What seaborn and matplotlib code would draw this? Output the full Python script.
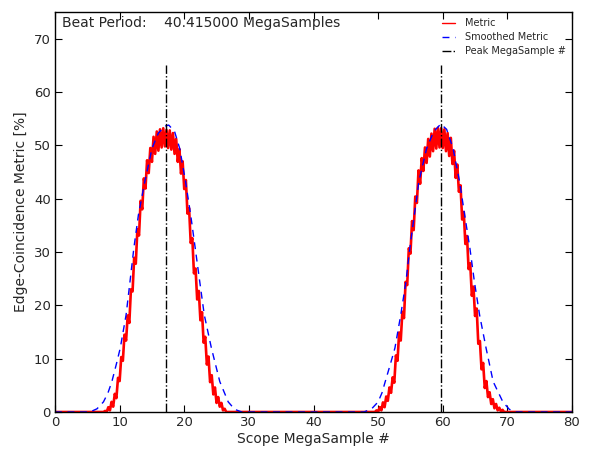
import numpy as np
import pandas as pd
import matplotlib
matplotlib.use("Agg")
import matplotlib.pyplot as plt
import seaborn as sns

# ---------------- data ----------------
# Metric, hump 1: samples every 0.25 MegaSample starting at 7.5
hump1_start = 7.5
hump1_metric = [0, 0.2, 0, 0.9, 0.3, 1.9, 1.0, 3.4, 2.6, 6.4, 5.8, 10.3, 9.6, 14.5,
                13.4, 18.1, 16.7, 23.0, 22.6, 28.9, 27.8, 34.3, 33.1, 39.6, 38.0,
                43.8, 41.9, 47.2, 44.8, 49.5, 46.9, 51.6, 48.4, 52.6, 49.0, 53.0,
                49.6, 53.2, 49.8, 52.9, 49.5, 52.8, 49.2, 52.3, 48.4, 51.2, 46.9,
                49.3, 44.7, 47.0, 41.8, 43.5, 37.2, 38.2, 31.7, 32.6, 26.0, 26.9,
                21.1, 22.7, 17.2, 18.7, 13.0, 14.1, 8.9, 10.4, 5.6, 6.9, 3.3, 4.6,
                1.7, 2.8, 1.0, 1.7, 0.3, 0.6, 0]
# Metric, hump 2: samples every 0.25 MegaSample starting at 49.5
hump2_start = 49.5
hump2_metric = [0, 0.3, 0, 0.9, 0.3, 1.8, 0.9, 2.9, 2.1, 4.6, 3.6, 6.5, 5.5, 10.6,
                9.6, 14.9, 13.4, 18.8, 17.6, 24.4, 23.8, 30.7, 29.7, 35.8, 34.1,
                40.4, 39.2, 45.3, 42.8, 47.6, 45.2, 49.6, 46.7, 51.2, 47.9, 52.2,
                48.9, 53.1, 49.4, 53.3, 49.6, 53.2, 49.5, 53.0, 48.9, 52.3, 48.0,
                51.4, 46.5, 49.0, 43.9, 46.4, 41.3, 42.5, 36.1, 37.5, 31.5, 33.0,
                26.8, 27.9, 21.8, 23.5, 18.0, 19.4, 12.8, 13.3, 8.0, 9.2, 4.5, 5.8,
                2.8, 3.7, 1.5, 2.4, 0.7, 1.5, 0.3, 0.8, 0.1, 0.4, 0, 0]
sample_step = 0.25

# Smoothed metric (x, y)
smooth_x = [0, 5.4, 6.5, 7.5, 8.2, 8.8, 9.5, 10.1, 11.0, 11.6, 12.2, 12.9, 13.9, 15.0,
            16.0, 17.0, 17.6, 18.5, 19.3, 20.2, 21.0, 21.7, 22.4, 23.1, 24.2, 25.5,
            26.8, 27.8, 28.9,
            47.8, 49.0, 50.0, 50.6, 51.1, 51.9, 52.6, 53.5, 54.3, 54.9, 55.6, 56.3,
            57.5, 58.6, 59.7, 60.6, 61.6, 62.6, 63.4, 64.2, 64.9, 65.7, 66.7, 67.8,
            69.3, 70.3, 71.4, 80]
smooth_y = [0, 0, 0.6, 1.9, 3.6, 5.7, 9.0, 12.0, 18.2, 24.4, 30.7, 36.9, 43.2, 49.4,
            52.3, 53.6, 53.8, 52.6, 49.4, 43.2, 36.9, 30.7, 24.4, 18.2, 12.0, 5.7,
            1.9, 0.5, 0,
            0, 0.6, 1.9, 3.6, 5.7, 9.0, 12.0, 18.2, 24.4, 30.7, 36.9, 43.2,
            49.4, 52.6, 54.0, 53.0, 49.4, 43.2, 36.9, 30.7, 24.4, 18.2, 12.0, 5.7,
            1.9, 0.5, 0, 0]

peak_positions = [17.2, 59.7]
peak_height = 65
beat_period = 40.415

x_ticks = [0, 10, 20, 30, 40, 50, 60, 70, 80]
y_ticks = [0, 10, 20, 30, 40, 50, 60, 70]

# ---------------- build tables ----------------
h1x = hump1_start + sample_step * np.arange(len(hump1_metric))
h2x = hump2_start + sample_step * np.arange(len(hump2_metric))
metric_df = pd.DataFrame({
    "x": np.concatenate([[0.0], h1x, h2x, [80.0]]),
    "y": np.concatenate([[0.0], hump1_metric, hump2_metric, [0.0]]),
})
smooth_df = pd.DataFrame({"x": smooth_x, "y": smooth_y})

# ---------------- plot ----------------
sns.set_style("ticks", {"xtick.direction": "in", "ytick.direction": "in",
                        "axes.edgecolor": "black"})
plt.rcParams["font.family"] = ["DejaVu Sans"]
plt.rcParams["xtick.top"] = True
plt.rcParams["ytick.right"] = True

fig = plt.figure(figsize=(5.89, 4.5), dpi=100)
ax = fig.add_axes([55 / 589, 38 / 450, (572 - 55) / 589, (412 - 12) / 450])

sns.lineplot(data=metric_df, x="x", y="y", ax=ax, color="#ff0000", lw=1.9,
             label="Metric", estimator=None)
sns.lineplot(data=smooth_df, x="x", y="y", ax=ax, color="#0000ff", lw=1.0,
             label="Smoothed Metric", estimator=None)
ax.lines[-1].set_dashes([5, 4])
for i, p in enumerate(peak_positions):
    ax.vlines(p, 0, peak_height, colors="black", linestyles="-.", lw=1.0,
              label="Peak MegaSample #" if i == 0 else None)

ax.set_xlim(0, 80)
ax.set_ylim(0, 75)
ax.set_xticks(x_ticks)
ax.set_yticks(y_ticks)
ax.tick_params(axis="both", which="major", length=5, width=0.8, labelsize=9.5,
               pad=3, top=True, right=True, direction="in", color="black")
for s in ax.spines.values():
    s.set_visible(True)
    s.set_linewidth(1.0)
    s.set_color("black")

ax.set_xlabel("Scope MegaSample #", fontsize=10, labelpad=2)
ax.set_ylabel("Edge-Coincidence Metric [%]", fontsize=10, labelpad=4)

ax.text(0.013, 0.99, f"Beat Period:    {beat_period:.6f} MegaSamples",
        transform=ax.transAxes, ha="left", va="top", fontsize=10)

leg = ax.legend(loc="upper right", frameon=False, fontsize=7,
                handlelength=1.3, handletextpad=1.0, borderaxespad=0.35,
                borderpad=0.3, labelspacing=0.4)
for h in leg.get_lines():
    h.set_linewidth(1.0)

fig.savefig("out.png", dpi=100)
